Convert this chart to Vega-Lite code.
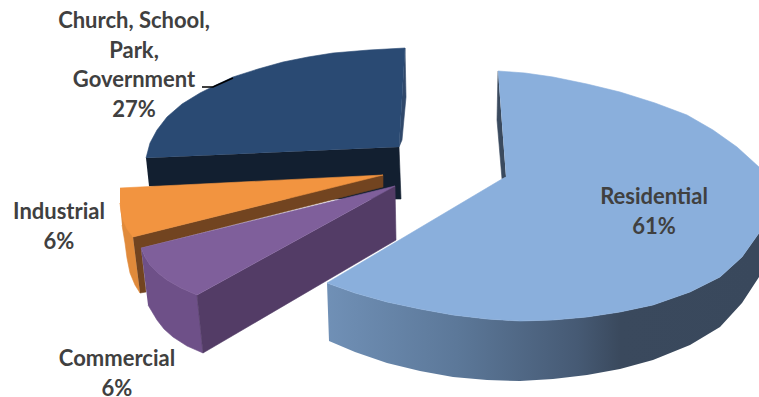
{
"$schema":"https://vega.github.io/schema/vega-lite/v6.json",
"width":759,"height":397,"padding":0,"autosize":{"type":"none"},
"background":"#ffffff","view":{"stroke":null},
"datasets":{
"outlines":[
{"piece":"church side","x":146,"y":158},{"piece":"church side","x":399,"y":147},{"piece":"church side","x":401,"y":199},{"piece":"church side","x":300,"y":199},{"piece":"church side","x":149,"y":186},
{"piece":"church edge","x":405,"y":48},{"piece":"church edge","x":406,"y":97},{"piece":"church edge","x":402,"y":140},{"piece":"church edge","x":399,"y":147},
{"piece":"church top","x":146,"y":158},{"piece":"church top","x":150,"y":143},{"piece":"church top","x":157,"y":130},{"piece":"church top","x":167,"y":117},{"piece":"church top","x":182,"y":104},{"piece":"church top","x":200,"y":93},{"piece":"church top","x":216,"y":85},{"piece":"church top","x":233,"y":77},{"piece":"church top","x":258,"y":69},{"piece":"church top","x":283,"y":62},{"piece":"church top","x":308,"y":57},{"piece":"church top","x":333,"y":53},{"piece":"church top","x":369,"y":50},{"piece":"church top","x":405,"y":48},{"piece":"church top","x":399,"y":147},
{"piece":"industrial rim","x":120,"y":203},{"piece":"industrial rim","x":133,"y":237},{"piece":"industrial rim","x":140,"y":293},{"piece":"industrial rim","x":135,"y":285},{"piece":"industrial rim","x":130,"y":273},{"piece":"industrial rim","x":127,"y":258},{"piece":"industrial rim","x":125,"y":243},{"piece":"industrial rim","x":122,"y":225},
{"piece":"industrial side","x":133,"y":237},{"piece":"industrial side","x":383,"y":175},{"piece":"industrial side","x":383,"y":187},{"piece":"industrial side","x":141,"y":248},{"piece":"industrial side","x":146,"y":292},{"piece":"industrial side","x":140,"y":293},
{"piece":"industrial top","x":120,"y":188},{"piece":"industrial top","x":383,"y":175},{"piece":"industrial top","x":133,"y":237},{"piece":"industrial top","x":127,"y":229},{"piece":"industrial top","x":123,"y":220},{"piece":"industrial top","x":121,"y":212},{"piece":"industrial top","x":120,"y":203},
{"piece":"commercial rim","x":141,"y":248},{"piece":"commercial rim","x":145,"y":257},{"piece":"commercial rim","x":150,"y":265},{"piece":"commercial rim","x":158,"y":273},{"piece":"commercial rim","x":167,"y":280},{"piece":"commercial rim","x":181,"y":288},{"piece":"commercial rim","x":197,"y":295},{"piece":"commercial rim","x":203,"y":353},{"piece":"commercial rim","x":187,"y":346},{"piece":"commercial rim","x":173,"y":337},{"piece":"commercial rim","x":164,"y":329},{"piece":"commercial rim","x":157,"y":320},{"piece":"commercial rim","x":148,"y":305},
{"piece":"commercial side","x":395,"y":186},{"piece":"commercial side","x":396,"y":240},{"piece":"commercial side","x":203,"y":353},{"piece":"commercial side","x":197,"y":295},
{"piece":"commercial top","x":141,"y":248},{"piece":"commercial top","x":395,"y":186},{"piece":"commercial top","x":197,"y":295},{"piece":"commercial top","x":181,"y":288},{"piece":"commercial top","x":167,"y":280},{"piece":"commercial top","x":158,"y":273},{"piece":"commercial top","x":150,"y":265},{"piece":"commercial top","x":145,"y":257},
{"piece":"residential edge","x":498,"y":71},{"piece":"residential edge","x":497,"y":120},{"piece":"residential edge","x":502,"y":179},{"piece":"residential edge","x":506,"y":177},
{"piece":"residential rim","x":327,"y":283},{"piece":"residential rim","x":355,"y":293},{"piece":"residential rim","x":387,"y":302},{"piece":"residential rim","x":420,"y":309},{"piece":"residential rim","x":453,"y":315},{"piece":"residential rim","x":487,"y":319},{"piece":"residential rim","x":520,"y":321},{"piece":"residential rim","x":553,"y":320},{"piece":"residential rim","x":587,"y":317},{"piece":"residential rim","x":620,"y":312},{"piece":"residential rim","x":653,"y":305},{"piece":"residential rim","x":690,"y":292},{"piece":"residential rim","x":720,"y":277},{"piece":"residential rim","x":742,"y":257},{"piece":"residential rim","x":759,"y":233},{"piece":"residential rim","x":759,"y":277},{"piece":"residential rim","x":742,"y":303},{"piece":"residential rim","x":720,"y":327},{"piece":"residential rim","x":690,"y":345},{"piece":"residential rim","x":653,"y":360},{"piece":"residential rim","x":620,"y":369},{"piece":"residential rim","x":587,"y":375},{"piece":"residential rim","x":553,"y":379},{"piece":"residential rim","x":520,"y":381},{"piece":"residential rim","x":487,"y":380},{"piece":"residential rim","x":453,"y":377},{"piece":"residential rim","x":420,"y":371},{"piece":"residential rim","x":387,"y":363},{"piece":"residential rim","x":355,"y":352},{"piece":"residential rim","x":329,"y":341},
{"piece":"residential top","x":498,"y":71},{"piece":"residential top","x":525,"y":73},{"piece":"residential top","x":553,"y":77},{"piece":"residential top","x":587,"y":84},{"piece":"residential top","x":620,"y":92},{"piece":"residential top","x":655,"y":103},{"piece":"residential top","x":687,"y":115},{"piece":"residential top","x":713,"y":130},{"piece":"residential top","x":737,"y":147},{"piece":"residential top","x":759,"y":167},{"piece":"residential top","x":759,"y":233},{"piece":"residential top","x":742,"y":257},{"piece":"residential top","x":720,"y":277},{"piece":"residential top","x":690,"y":292},{"piece":"residential top","x":653,"y":305},{"piece":"residential top","x":620,"y":312},{"piece":"residential top","x":587,"y":317},{"piece":"residential top","x":553,"y":320},{"piece":"residential top","x":520,"y":321},{"piece":"residential top","x":487,"y":319},{"piece":"residential top","x":453,"y":315},{"piece":"residential top","x":420,"y":309},{"piece":"residential top","x":387,"y":302},{"piece":"residential top","x":355,"y":293},{"piece":"residential top","x":327,"y":283},{"piece":"residential top","x":502,"y":179},{"piece":"residential top","x":506,"y":177}
],
"leader":[{"x":202,"y":87},{"x":213,"y":87},{"x":233,"y":78}],
"labels":[
{"label":"Residential\n61%","share":61,"x":654,"y":197},
{"label":"Church, School,\nPark,\nGovernment\n27%","share":27,"x":134,"y":21},
{"label":"Industrial\n6%","share":6,"x":59,"y":212},
{"label":"Commercial\n6%","share":6,"x":117,"y":359}
]},
"encoding":{
"x":{"field":"x","type":"quantitative","scale":{"domain":[0,759]},"axis":null},
"y":{"field":"y","type":"quantitative","scale":{"domain":[397,0]},"axis":null}
},
"layer":[
{"data":{"name":"outlines"},
 "transform":[{"filter":"datum.piece !== 'residential rim' && datum.piece !== 'residential top'"},{"window":[{"op":"row_number","as":"seq"}]}],
 "mark":{"type":"line","filled":true,"strokeWidth":0.6,"clip":true},
 "encoding":{
  "order":{"field":"seq","type":"quantitative"},
  "detail":{"field":"piece"},
  "fill":{"field":"piece","type":"nominal","legend":null,"sort":null,
   "scale":{"domain":["church side","church edge","church top","industrial rim","industrial side","industrial top","commercial rim","commercial side","commercial top","residential edge"],
   "range":["#121f30","#30486a","#2a4a73","#e08a3b","#724420","#f29440","#6e5088","#533c66","#7f5f9b","#3a4a5e"]}},
  "stroke":{"field":"piece","type":"nominal","legend":null,"sort":null,
   "scale":{"domain":["church side","church edge","church top","industrial rim","industrial side","industrial top","commercial rim","commercial side","commercial top","residential edge"],
   "range":["#121f30","#30486a","#2a4a73","#e08a3b","#724420","#f29440","#6e5088","#533c66","#7f5f9b","#3a4a5e"]}}
 }},
{"data":{"name":"outlines"},
 "transform":[{"filter":"datum.piece === 'residential rim'"},{"window":[{"op":"row_number","as":"seq"}]}],
 "mark":{"type":"line","filled":true,"strokeWidth":0,"clip":true,
  "fill":{"gradient":"linear","x1":0,"y1":0,"x2":1,"y2":0,"stops":[{"offset":0,"color":"#7090b6"},{"offset":0.3,"color":"#5c7899"},{"offset":0.58,"color":"#465a74"},{"offset":0.68,"color":"#3a495d"},{"offset":1,"color":"#39485c"}]}},
 "encoding":{"order":{"field":"seq","type":"quantitative"}}},
{"data":{"name":"outlines"},
 "transform":[{"filter":"datum.piece === 'residential top'"},{"window":[{"op":"row_number","as":"seq"}]}],
 "mark":{"type":"line","filled":true,"fill":"#8aafdc","stroke":"#8aafdc","strokeWidth":0.6,"clip":true},
 "encoding":{"order":{"field":"seq","type":"quantitative"}}},
{"data":{"name":"leader"},
 "mark":{"type":"line","color":"#000000","strokeWidth":1.4},
 "encoding":{"order":{"field":"x","type":"quantitative"}}},
{"data":{"name":"labels"},
 "mark":{"type":"text","font":"Lato","fontWeight":"bold","fontSize":22,"color":"#404040","align":"center","baseline":"middle","lineBreak":"\n","lineHeight":29.5},
 "encoding":{"text":{"field":"label","type":"nominal"}}}
]
}
